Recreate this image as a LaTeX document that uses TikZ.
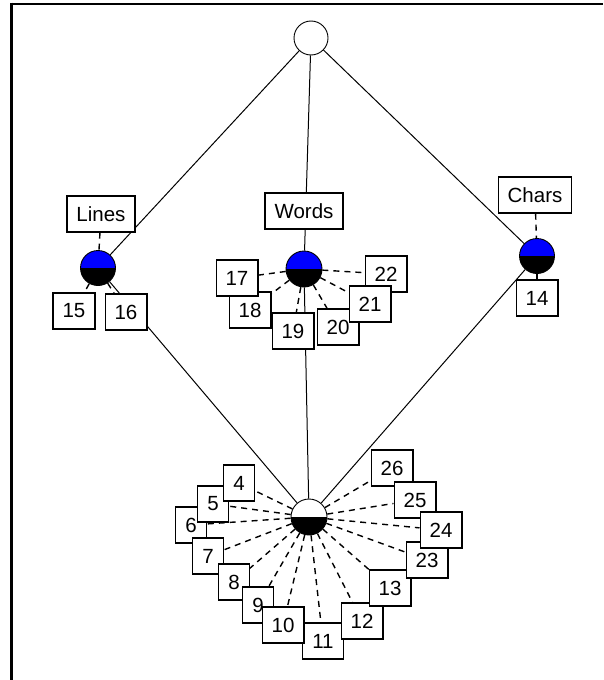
\documentclass[tikz,border=0pt]{standalone}
\usepackage{fontspec}
\setmainfont{Liberation Sans}
\usetikzlibrary{backgrounds}
\tikzset{
  lbl/.style={draw, fill=white, line width=1.2pt, minimum height=36pt, inner xsep=9.5pt, inner ysep=0pt, font=\fontsize{20.5}{20.5}\selectfont},
  hub/.style={circle, draw, line width=0.9pt, minimum size=35pt, inner sep=0pt},
  bluehub/.style={hub, path picture={
      \fill[blue] (path picture bounding box.north west) rectangle (path picture bounding box.east);
      \fill[black] (path picture bounding box.west) rectangle (path picture bounding box.south east);}},
  whitehub/.style={hub, path picture={
      \fill[white] (path picture bounding box.north west) rectangle (path picture bounding box.east);
      \fill[black] (path picture bounding box.west) rectangle (path picture bounding box.south east);}},
  link/.style={line width=1pt},
  spoke/.style={line width=1.4pt, dash pattern=on 6pt off 5pt},
  frameline/.style={line width=2.7pt}
}
\begin{document}
\begin{tikzpicture}[x=1pt, y=-1pt]
\useasboundingbox (0,0) rectangle (603,680);
\draw[frameline] (11.3,2.6) -- (11.3,680);
\draw[frameline] (10,4) -- (603,4);

% hubs
\node[hub, fill=white, minimum size=34pt] (top) at (311,38) {};
\node[bluehub] (lc) at (98,268) {};
\node[bluehub, minimum size=36pt] (wc) at (304,269) {};
\node[bluehub] (cc) at (537,256) {};
\node[whitehub, minimum size=36pt] (bc) at (309,517) {};

% boxes (order gives overlaps)
\node[lbl] (lines) at (101,214) {Lines};
\node[lbl] (b15) at (74,311) {15};
\node[lbl] (b16) at (126,312) {16};

\node[lbl] (words) at (304,211) {Words};
\node[lbl] (b22) at (386,274) {22};
\node[lbl] (b20) at (338,327) {20};
\node[lbl] (b21) at (370,304) {21};
\node[lbl] (b18) at (250,310) {18};
\node[lbl] (b17) at (237,278) {17};
\node[lbl] (b19) at (293,331) {19};

\node[lbl] (chars) at (535,195) {Chars};
\node[lbl] (b14) at (537,298) {14};

\node[lbl] (b26) at (392,468) {26};
\node[lbl] (b25) at (415,500) {25};
\node[lbl] (b11) at (323,641) {11};
\node[lbl] (b6) at (191,525) {6};
\node[lbl] (b5) at (213,504) {5};
\node[lbl] (b4) at (239,483) {4};
\node[lbl] (b7) at (208,556) {7};
\node[lbl] (b8) at (234,582) {8};
\node[lbl] (b9) at (258,605) {9};
\node[lbl] (b10) at (283,625) {10};
\node[lbl] (b12) at (362,621) {12};
\node[lbl] (b13) at (390,588) {13};
\node[lbl] (b23) at (427,560) {23};
\node[lbl] (b24) at (441,530) {24};

\begin{scope}[on background layer]
  \draw[link] (top) -- (lc);
  \draw[link] (top) -- (wc);
  \draw[link] (top) -- (cc);
  \draw[link] (lc) -- (bc);
  \draw[link] (wc) -- (bc);
  \draw[link] (cc) -- (bc);
  \draw[spoke] (lines) -- (lc);
  \draw[spoke] (chars) -- (cc);
  \draw[spoke] (cc) -- (b14);
  \draw[spoke] (lc) -- (b15);
  \draw[spoke] (lc) -- (b16);
  \foreach \b in {b17,b18,b19,b20,b21,b22}
    \draw[spoke] (wc) -- (\b);
  \foreach \b in {b4,b5,b6,b7,b8,b9,b10,b11,b12,b13,b23,b24,b25,b26}
    \draw[spoke] (bc) -- (\b);
\end{scope}
\end{tikzpicture}
\end{document}
